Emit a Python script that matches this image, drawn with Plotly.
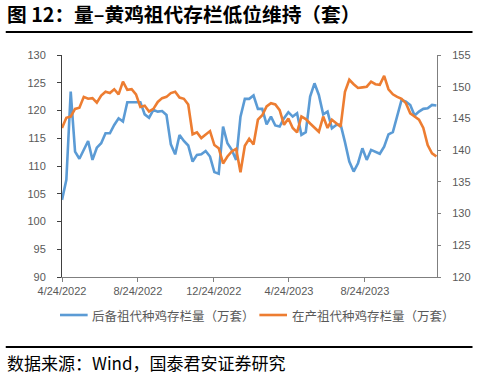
import pandas as pd
import plotly.graph_objects as go

start_date = "2022-04-24"
n_weeks = 87
dates = pd.date_range(start_date, periods=n_weeks, freq="7D")

reserve_gp = [
    103.9, 107.5, 123.4, 112.6, 111.3, 112.9, 114.5, 111.1, 113.3, 114.1,
    115.9, 115.9, 117.4, 118.6, 118.0, 121.5, 121.5, 121.5, 121.5, 119.3,
    118.7, 120.1, 119.8, 119.9, 119.2, 113.9, 112.1, 115.6, 114.5, 113.7,
    110.8, 112.0, 112.1, 112.7, 111.7, 108.9, 108.6, 117.1, 114.1, 112.9,
    111.1, 118.9, 122.1, 122.1, 122.7, 120.3, 120.3, 117.5, 118.9, 117.3,
    117.1, 118.6, 119.7, 118.9, 119.5, 115.6, 116.1, 122.5, 124.9, 122.8,
    119.3, 119.8, 116.8, 117.4, 117.5, 114.3, 110.8, 109.0, 110.5, 113.2,
    111.1, 112.9, 112.5, 112.2, 113.5, 115.7, 116.1, 119.2, 121.9, 121.6,
    121.0, 119.1, 119.8, 120.3, 120.4, 121.0, 120.9,
]

producing_gp = [
    143.5, 145.1, 145.3, 146.5, 146.7, 148.4, 148.1, 148.2, 147.5, 148.6,
    149.2, 149.0, 149.6, 148.8, 150.8, 149.5, 149.6, 148.8, 146.8, 147.0,
    146.1, 146.5, 147.6, 148.2, 148.4, 149.0, 149.2, 148.3, 148.1, 147.2,
    142.5, 142.8, 141.9, 142.4, 143.0, 140.8, 140.3, 137.9, 139.0, 139.8,
    140.2, 136.5, 140.7, 141.8, 140.9, 144.8, 145.5, 146.9, 147.4, 147.2,
    146.3, 144.0, 145.0, 143.5, 142.8, 145.3, 144.9, 144.2, 143.5, 142.9,
    145.3, 143.5, 144.8, 144.2, 143.7, 149.2, 151.1, 150.4, 149.8, 149.9,
    150.0, 150.8, 150.4, 150.3, 151.7, 149.6, 148.8, 148.4, 148.1, 147.4,
    145.8, 145.3, 144.8, 143.5, 140.8, 139.5, 139.0,
]

x_tick_dates = ["2022-04-24", "2022-08-24", "2022-12-24", "2023-04-24", "2023-08-24"]
x_tick_labels = ["4/24/2022", "8/24/2022", "12/24/2022", "4/24/2023", "8/24/2023"]
left_ticks = [90, 95, 100, 105, 110, 115, 120, 125, 130]
right_ticks = [120, 125, 130, 135, 140, 145, 150, 155]

name_reserve = "后备祖代种鸡存栏量（万套）"
name_producing = "在产祖代种鸡存栏量（万套）"
title_text = "图 12：量–黄鸡祖代存栏低位维持（套）"
source_text = "数据来源：Wind，国泰君安证券研究"

BLUE = "#5B9BD5"
ORANGE = "#ED7D31"
CJK = "Noto Sans CJK SC"
TICKFONT = dict(family="Liberation Sans, Arial, sans-serif", size=11, color="#595959")

fig = go.Figure()
fig.add_trace(go.Scatter(x=dates, y=reserve_gp, name=name_reserve, mode="lines",
                         line=dict(color=BLUE, width=2.6), yaxis="y", showlegend=False))
fig.add_trace(go.Scatter(x=dates, y=producing_gp, name=name_producing, mode="lines",
                         line=dict(color=ORANGE, width=2.6), yaxis="y2", showlegend=False))

fig.update_layout(
    width=483, height=377,
    margin=dict(l=62, r=41, t=55, b=100),
    paper_bgcolor="white", plot_bgcolor="white",
    showlegend=False,
    xaxis=dict(type="date", range=["2022-04-24", "2023-12-18"],
               tickvals=x_tick_dates, ticktext=x_tick_labels,
               showgrid=False, zeroline=False, showline=True,
               linecolor="#7F7F7F", linewidth=1, ticks="outside", ticklen=4,
               tickcolor="#7F7F7F", tickfont=TICKFONT),
    yaxis=dict(range=[90, 130], tickvals=left_ticks, showgrid=False, zeroline=False,
               showline=True, linecolor="#404040", linewidth=1, ticks="outside",
               ticklen=4, tickcolor="#404040", tickfont=TICKFONT, ticklabelstandoff=9),
    yaxis2=dict(range=[120, 155], tickvals=right_ticks, overlaying="y", side="right",
                showgrid=False, zeroline=False, showline=True, linecolor="#7F7F7F",
                linewidth=1, ticks="outside", ticklen=3, tickcolor="#7F7F7F",
                tickfont=TICKFONT, ticklabelstandoff=9),
)

# title, rules and source
fig.add_annotation(xref="paper", yref="paper", x=-0.152, y=1.185, xanchor="left",
                   yanchor="middle", text="<b>" + title_text + "</b>", showarrow=False,
                   font=dict(family=CJK, size=19.7, color="#000000"))
fig.add_annotation(xref="paper", yref="paper", x=-0.152, y=-0.385, xanchor="left",
                   yanchor="middle", text=source_text, showarrow=False,
                   font=dict(family=CJK, size=17, color="#000000"))
fig.add_shape(type="line", xref="paper", yref="paper", x0=-0.15, x1=1.0947,
              y0=1.1036, y1=1.1036, line=dict(color="#000000", width=2))
fig.add_shape(type="line", xref="paper", yref="paper", x0=-0.15, x1=1.0947,
              y0=-0.315, y1=-0.315, line=dict(color="#000000", width=2))

# legend (drawn manually to match spacing)
leg_y = -0.1712
legend_items = [(name_reserve, BLUE, -0.0053, 0.0684, 0.0737),
                (name_producing, ORANGE, 0.5263, 0.6, 0.6079)]
for label, color, lx0, lx1, tx in legend_items:
    fig.add_shape(type="line", xref="paper", yref="paper", x0=lx0, x1=lx1,
                  y0=leg_y, y1=leg_y, line=dict(color=color, width=2.6))
    fig.add_annotation(xref="paper", yref="paper", x=tx, y=leg_y, xanchor="left",
                       yanchor="middle", text=label, showarrow=False,
                       font=dict(family=CJK, size=12.5, color="#595959"))

fig.write_html("out.html", config={"displayModeBar": False},
               post_script="document.body.style.margin='0';")
